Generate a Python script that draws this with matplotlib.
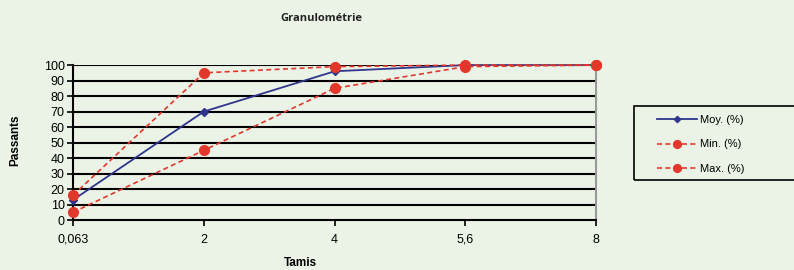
import matplotlib.pyplot as plt
from matplotlib.patches import Rectangle

# data
tamis = ["0,063", "2", "4", "5,6", "8"]
moy = [13, 70, 96, 100, 100]
mini = [16, 95, 99, 100, 100]
maxi = [5, 45, 85, 99, 100]
yticks = list(range(0, 101, 10))

bg = "#ebf3e6"
red = "#e2372b"
blue = "#2e358c"

plt.rcParams['font.family'] = ['Liberation Sans', 'DejaVu Sans']

fig = plt.figure(figsize=(7.94, 2.70), dpi=100, facecolor=bg)
ax = fig.add_axes([0.092, 0.185, 0.659, 0.574])
ax.set_facecolor(bg)

x = list(range(len(tamis)))
ax.plot(x, moy, color=blue, lw=1.3, marker="D", ms=4, label="Moy. (%)", zorder=3, clip_on=False)
ax.plot(x, mini, color=red, lw=1.2, ls=(0, (3, 2)), marker="o", ms=7, label="Min. (%)",
        zorder=4, clip_on=False)
ax.plot(x, maxi, color=red, lw=1.2, ls=(0, (3, 2)), marker="o", ms=7, label="Max. (%)",
        zorder=4, clip_on=False)

ax.set_xlim(0, len(tamis) - 1)
ax.set_ylim(0, 100)
ax.set_xticks(x)
ax.set_xticklabels(tamis)
ax.set_yticks(yticks)
for v in yticks[1:]:
    ax.axhline(v, color="black", lw=1.5, zorder=1)

ax.spines["top"].set_visible(False)
ax.spines["right"].set_color("#999999")
ax.spines["right"].set_linewidth(1.5)
ax.spines["left"].set_linewidth(1.5)
ax.spines["bottom"].set_linewidth(1.5)
ax.tick_params(axis="both", labelsize=9, length=4, width=1.2, colors="black")
ax.tick_params(axis="x", pad=6)
ax.tick_params(axis="y", pad=2)

fig.text(0.405, 0.93, "Granulométrie", fontsize=8, fontweight="bold",
         ha="center", va="center", color="#222222", family=["Open Sans", "DejaVu Sans"])
fig.text(0.019, 0.48, "Passants", fontsize=8.5, fontweight="bold", rotation=90,
         ha="center", va="center")
fig.text(0.378, 0.025, "Tamis", fontsize=8.5, fontweight="bold", ha="center", va="center")

fig.patches.append(Rectangle((0.799, 0.333), 0.3, 0.274, transform=fig.transFigure,
                             fill=False, ec="black", lw=1.2))
leg = fig.legend(loc="upper left", bbox_to_anchor=(0.815, 0.61), frameon=False,
                 fontsize=8, handlelength=3.6, labelspacing=1.27, handletextpad=0.3,
                 markerscale=0.8)

fig.savefig("out.png", dpi=100, facecolor=bg)
